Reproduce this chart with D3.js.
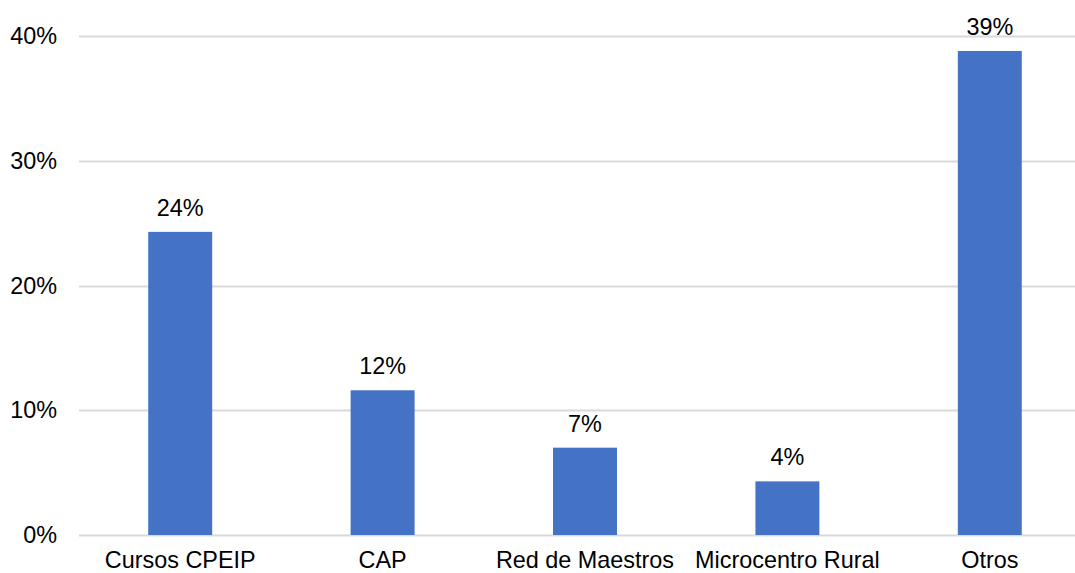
<!DOCTYPE html>
<html>
<head>
<meta charset="utf-8">
<script src="https://cdn.jsdelivr.net/npm/d3@7/dist/d3.min.js"></script>
<style>
  html, body { margin: 0; padding: 0; background: #ffffff; }
  svg { display: block; font-family: "Liberation Sans", Arial, sans-serif; }
</style>
</head>
<body>
<svg id="chart" width="1075" height="573"></svg>
<script>
// Share of teachers by training source
const categories = ["Cursos CPEIP", "CAP", "Red de Maestros", "Microcentro Rural", "Otros"];
const values = [0.243, 0.116, 0.070, 0.043, 0.388];
const yTicks = [0, 0.1, 0.2, 0.3, 0.4];

const svg = d3.select("#chart");
const fontSize = 23.4;
const pct = d3.format(".0%");

const x = d3.scaleBand()
  .domain(categories)
  .range([79, 1091])
  .paddingInner(0.684)
  .paddingOuter(0.342);

const y = d3.scaleLinear()
  .domain([0, 0.4])
  .range([535, 36]);

// Horizontal gridlines (including the baseline)
svg.append("g")
  .selectAll("line")
  .data(yTicks)
  .join("line")
  .attr("x1", 79)
  .attr("x2", 1091)
  .attr("y1", d => Math.round(y(d)) + 0.5)
  .attr("y2", d => Math.round(y(d)) + 0.5)
  .attr("stroke", "#d9d9d9")
  .attr("stroke-width", 2);

// Y axis labels
const yAxis = d3.axisLeft(y).tickValues(yTicks).tickFormat(pct).tickSize(0).tickPadding(0);
const gy = svg.append("g")
  .attr("transform", "translate(57,0)")
  .call(yAxis);
gy.select(".domain").remove();
gy.selectAll("text")
  .attr("font-family", "Liberation Sans, Arial, sans-serif")
  .attr("font-size", fontSize)
  .attr("fill", "#000");

// Bars
svg.append("g")
  .selectAll("rect")
  .data(values)
  .join("rect")
  .attr("x", (d, i) => x(categories[i]))
  .attr("y", d => y(d))
  .attr("width", x.bandwidth())
  .attr("height", d => y(0) - y(d))
  .attr("fill", "#4472c4");

// Value labels
svg.append("g")
  .selectAll("text")
  .data(values)
  .join("text")
  .attr("x", (d, i) => x(categories[i]) + x.bandwidth() / 2)
  .attr("y", d => y(d) - 16)
  .attr("text-anchor", "middle")
  .attr("font-size", fontSize)
  .attr("fill", "#000")
  .text(d => pct(d));

// Category labels, placed on a fixed baseline near the bottom edge
const xAxis = d3.axisBottom(x).tickSize(0).tickPadding(0);
const gx = svg.append("g")
  .attr("transform", "translate(0,567.5)")
  .call(xAxis);
gx.select(".domain").remove();
gx.selectAll("text")
  .attr("font-family", "Liberation Sans, Arial, sans-serif")
  .attr("font-size", fontSize)
  .attr("fill", "#000")
  .attr("dy", null)
  .attr("y", 0);
</script>
</body>
</html>
